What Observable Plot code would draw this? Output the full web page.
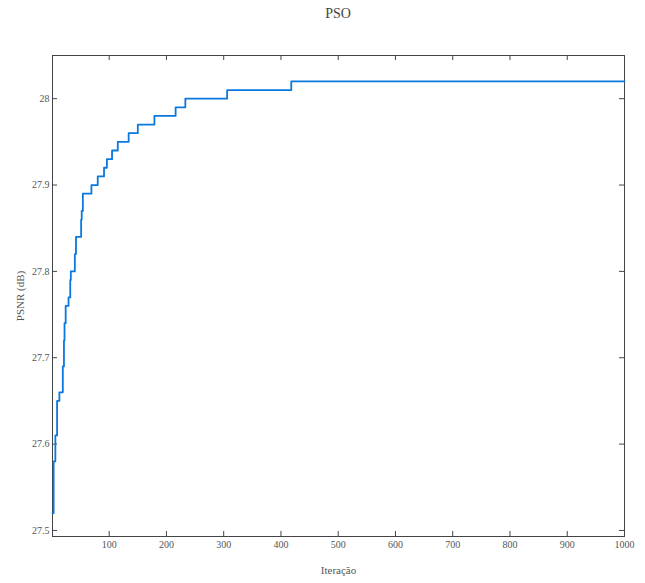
<!DOCTYPE html>
<html><head><meta charset="utf-8">
<script src="https://cdn.jsdelivr.net/npm/d3@7"></script>
<script src="https://cdn.jsdelivr.net/npm/@observablehq/plot@0.6"></script>
<style>
body{margin:0;background:#fff;font-family:"Liberation Serif","DejaVu Serif",serif;}
#title{height:30px;width:645px;text-align:center;font-size:14px;color:#444;line-height:28px;padding-left:31px;box-sizing:border-box;}
</style></head>
<body>
<div id="title">PSO</div>
<div id="chart"></div>
<script>
const iterations = [1, 3, 6, 9, 13, 19, 21, 22, 24, 29, 32, 33, 40, 42, 51, 52, 54, 69, 80, 91, 96, 105, 115, 134, 150, 179, 216, 233, 306, 418, 1000];
const psnr = [27.52, 27.58, 27.61, 27.65, 27.66, 27.69, 27.72, 27.74, 27.76, 27.77, 27.79, 27.80, 27.82, 27.84, 27.86, 27.87, 27.89, 27.90, 27.91, 27.92, 27.93, 27.94, 27.95, 27.96, 27.97, 27.98, 27.99, 28.00, 28.01, 28.02, 28.02];
const xTicks = [100, 200, 300, 400, 500, 600, 700, 800, 900, 1000];
const yTicks = [27.5, 27.6, 27.7, 27.8, 27.9, 28];
const data = iterations.map((it, i) => ({it, v: psnr[i]}));

const W = 645, H = 553, mL = 52, mR = 21, mT = 25, mB = 47, tk = 5;
const pw = W - mL - mR, ph = H - mT - mB;
const axisColor = "#444";
const fmt = d => String(d);
const chart = Plot.plot({
  width: W,
  height: H,
  marginLeft: mL,
  marginRight: mR,
  marginTop: mT,
  marginBottom: mB,
  style: {fontFamily: '"Liberation Serif", serif', fontSize: "10px", color: "#555", background: "#fff"},
  x: {domain: [1, 1000]},
  y: {domain: [27.493, 28.05]},
  marks: [
    Plot.axisX({anchor: "bottom", ticks: xTicks, tickSize: 0, tickPadding: 4, tickFormat: fmt, label: null}),
    Plot.axisX({anchor: "bottom", ticks: [], label: "Iteração", labelAnchor: "center", labelArrow: "none", labelOffset: 37, fontSize: 11}),
    Plot.axisY({anchor: "left", ticks: yTicks, tickSize: 0, tickPadding: 3, tickFormat: fmt, label: null}),
    Plot.axisY({anchor: "left", ticks: [], label: "PSNR (dB)", labelAnchor: "center", labelArrow: "none", labelOffset: 36, fontSize: 11}),
    Plot.tickX(xTicks, {x: d => d, insetTop: ph - tk, stroke: axisColor}),
    Plot.tickX(xTicks, {x: d => d, insetBottom: ph - tk, stroke: axisColor}),
    Plot.tickY(yTicks, {y: d => d, insetRight: pw - tk, stroke: axisColor}),
    Plot.tickY(yTicks, {y: d => d, insetLeft: pw - tk, stroke: axisColor}),
    Plot.frame({stroke: axisColor, strokeWidth: 1}),
    Plot.line(data, {x: "it", y: "v", curve: "step-after", stroke: "#0a78df", strokeWidth: 1.8})
  ]
});
document.getElementById("chart").appendChild(chart);
</script>
</body></html>
